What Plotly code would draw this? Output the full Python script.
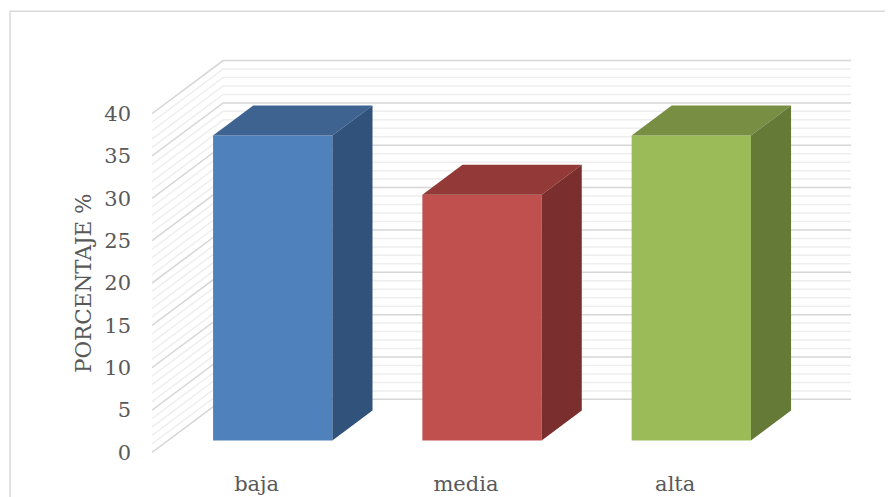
import plotly.graph_objects as go

categories = ["baja", "media", "alta"]
values = [36, 29, 36]
front_colors = ["#4f81bd", "#c0504d", "#9bbb59"]
top_colors = ["#3e6391", "#933a38", "#788f43"]
side_colors = ["#31527a", "#7a2e2d", "#647a36"]
y_ticks = [0, 5, 10, 15, 20, 25, 30, 35, 40]

# oblique projection parameters (depth offsets in data units)
DX, DY = 0.34, 6.27
ZF, ZB = 0.226, 0.79
W = 0.57
YMAX = 40

def proj(x, v, z):
    return x + z * DX, v + z * DY

fig = go.Figure()

shapes = []
# wall gridlines (side wall + back wall), drawn below the bars
for v in range(0, YMAX + 1):
    major = v % 5 == 0
    pts = [proj(x, v, z) for (x, z) in [(-0.5, 0), (-0.5, 1), (2.5, 1)]]
    path = "M {},{} L {},{} L {},{}".format(*[c for p in pts for c in p])
    shapes.append(dict(type="path", xref="x", yref="y", path=path, layer="below",
                       line=dict(color="#d6d6d6" if major else "#eeeeee", width=1.5)))

for i, (cat, val) in enumerate(zip(categories, values)):
    x0, x1 = i - W / 2, i + W / 2
    # front face
    fx, fy = proj(i, 0, ZF)
    fig.add_trace(go.Bar(x=[fx], y=[val], base=[fy], width=[W],
                         marker=dict(color=front_colors[i], line=dict(width=0)),
                         showlegend=False, name=cat))
    # top face
    pts = [proj(x0, val, ZF), proj(x1, val, ZF), proj(x1, val, ZB), proj(x0, val, ZB), proj(x0, val, ZF)]
    fig.add_trace(go.Scatter(x=[p[0] for p in pts], y=[p[1] for p in pts], mode="lines",
                             fill="toself", fillcolor=top_colors[i],
                             line=dict(width=0, color=top_colors[i]),
                             hoverinfo="skip", showlegend=False))
    # side face
    pts = [proj(x1, 0, ZF), proj(x1, val, ZF), proj(x1, val, ZB), proj(x1, 0, ZB), proj(x1, 0, ZF)]
    fig.add_trace(go.Scatter(x=[p[0] for p in pts], y=[p[1] for p in pts], mode="lines",
                             fill="toself", fillcolor=side_colors[i],
                             line=dict(width=0, color=side_colors[i]),
                             hoverinfo="skip", showlegend=False))

shapes.append(dict(type="rect", xref="paper", yref="paper",
                   x0=-0.2031, x1=1.2, y0=-0.3, y1=1.118,
                   line=dict(color="#d9d9d9", width=1.5), layer="below"))

font_family = "DejaVu Serif"
fig.update_layout(
    width=885, height=489,
    margin=dict(l=144, r=42, t=50, b=42, autoexpand=False),
    paper_bgcolor="white", plot_bgcolor="white",
    barmode="overlay",
    font=dict(family=font_family, size=20, color="#595959"),
    xaxis=dict(range=[-0.5, 2.5 + DX], tickvals=[0, 1, 2], ticktext=categories,
               showgrid=False, zeroline=False, showline=False, ticks="",
               automargin=False, ticklabelstandoff=14, tickfont=dict(size=21)),
    yaxis=dict(range=[-0.3, YMAX + DY + 0.3], tickvals=y_ticks,
               showgrid=False, zeroline=False, showline=False, ticks="",
               automargin=False, ticklabelstandoff=20, tickfont=dict(size=21)),
    shapes=shapes,
    annotations=[dict(text="PORCENTAJE %", xref="paper", yref="y",
                      x=-0.0988, y=20, xanchor="center", yanchor="middle",
                      textangle=-90, showarrow=False,
                      font=dict(size=21.5, color="#595959"))],
)

fig.write_html("out.html")
